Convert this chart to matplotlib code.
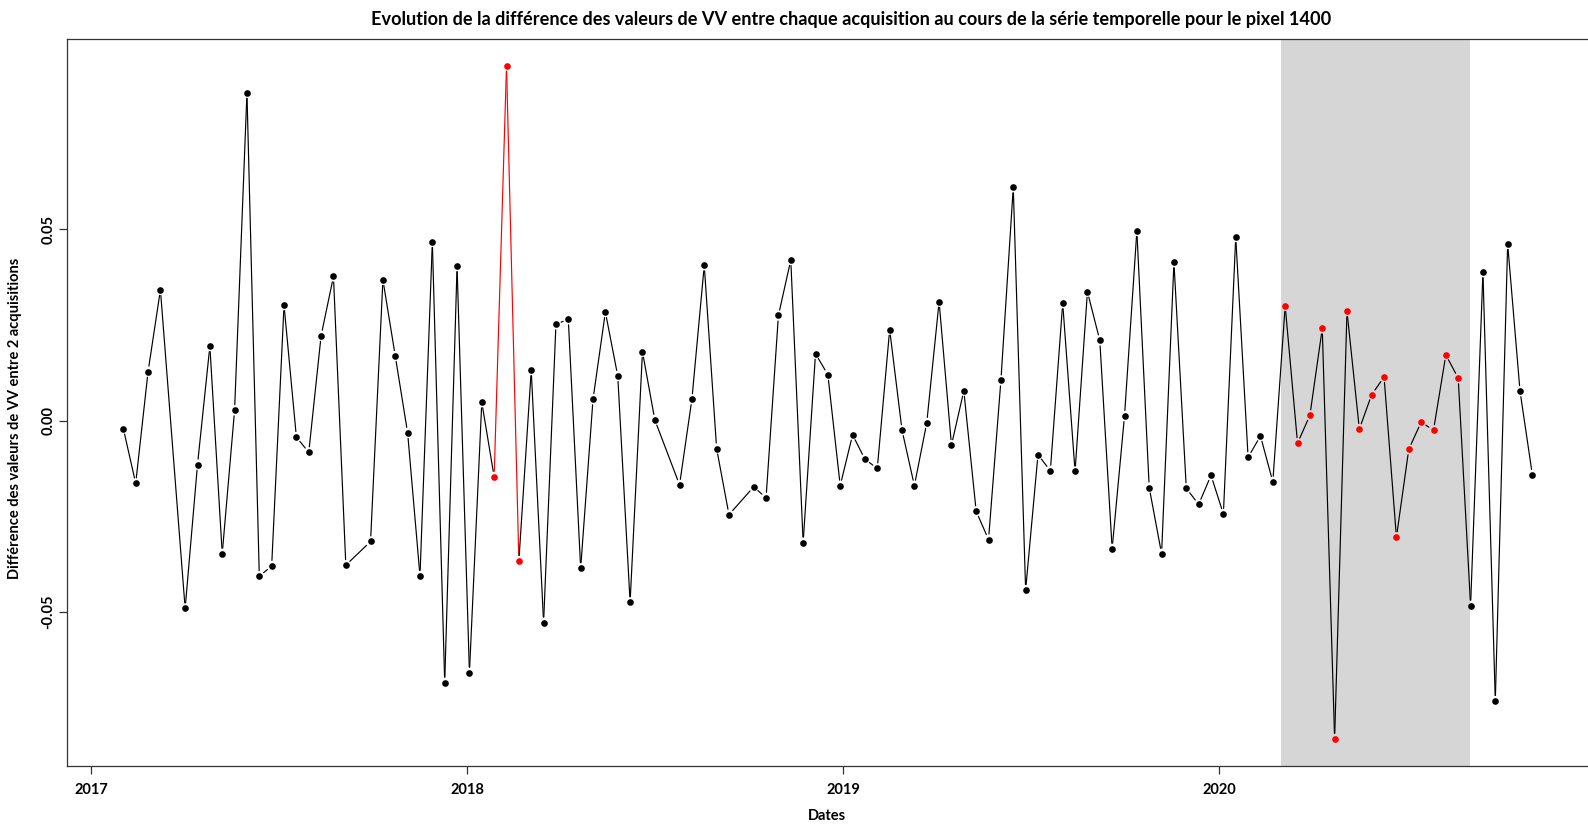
import numpy as np
import matplotlib
matplotlib.use("Agg")
import matplotlib.pyplot as plt
import matplotlib.dates as mdates

plt.rcParams['font.family'] = ['Lato', 'DejaVu Sans']
plt.rcParams['font.weight'] = 'bold'

# acquisition dates (Sentinel-1, 12 day revisit, a few missing)
dates = [
    '2017-02-01', '2017-02-13', '2017-02-25', '2017-03-09', '2017-04-02', '2017-04-14',
    '2017-04-26', '2017-05-08', '2017-05-20', '2017-06-01', '2017-06-13', '2017-06-25',
    '2017-07-07', '2017-07-19', '2017-07-31', '2017-08-12', '2017-08-24', '2017-09-05',
    '2017-09-29', '2017-10-11', '2017-10-23', '2017-11-04', '2017-11-16', '2017-11-28',
    '2017-12-10', '2017-12-22', '2018-01-03', '2018-01-15', '2018-01-27', '2018-02-08',
    '2018-02-20', '2018-03-04', '2018-03-16', '2018-03-28', '2018-04-09', '2018-04-21',
    '2018-05-03', '2018-05-15', '2018-05-27', '2018-06-08', '2018-06-20', '2018-07-02',
    '2018-07-26', '2018-08-07', '2018-08-19', '2018-08-31', '2018-09-12', '2018-10-06',
    '2018-10-18', '2018-10-30', '2018-11-11', '2018-11-23', '2018-12-05', '2018-12-17',
    '2018-12-29', '2019-01-10', '2019-01-22', '2019-02-03', '2019-02-15', '2019-02-27',
    '2019-03-11', '2019-03-23', '2019-04-04', '2019-04-16', '2019-04-28', '2019-05-10',
    '2019-05-22', '2019-06-03', '2019-06-15', '2019-06-27', '2019-07-09', '2019-07-21',
    '2019-08-02', '2019-08-14', '2019-08-26', '2019-09-07', '2019-09-19', '2019-10-01',
    '2019-10-13', '2019-10-25', '2019-11-06', '2019-11-18', '2019-11-30', '2019-12-12',
    '2019-12-24', '2020-01-05', '2020-01-17', '2020-01-29', '2020-02-10', '2020-02-22',
    '2020-03-05', '2020-03-17', '2020-03-29', '2020-04-10', '2020-04-22', '2020-05-04',
    '2020-05-16', '2020-05-28', '2020-06-09', '2020-06-21', '2020-07-03', '2020-07-15',
    '2020-07-27', '2020-08-08', '2020-08-20', '2020-09-01', '2020-09-13', '2020-09-25',
    '2020-10-07', '2020-10-19', '2020-10-31',
]

# VV difference between two successive acquisitions
diff_vv = [
    -0.0021, -0.0164, 0.0128, 0.0342, -0.0491, -0.0115,
    0.0195, -0.0348, 0.0027, 0.0857, -0.0407, -0.0380,
    0.0302, -0.0043, -0.0083, 0.0222, 0.0377, -0.0378,
    -0.0316, 0.0368, 0.0169, -0.0032, -0.0406, 0.0467,
    -0.0685, 0.0404, -0.0659, 0.0048, -0.0147, 0.0928,
    -0.0367, 0.0132, -0.0528, 0.0252, 0.0265, -0.0386,
    0.0056, 0.0284, 0.0117, -0.0475, 0.0180, 0.0002,
    -0.0168, 0.0056, 0.0406, -0.0073, -0.0246, -0.0173,
    -0.0202, 0.0275, 0.0420, -0.0319, 0.0175, 0.0120,
    -0.0170, -0.0037, -0.0101, -0.0125, 0.0238, -0.0025,
    -0.0170, -0.0006, 0.0311, -0.0064, 0.0078, -0.0237,
    -0.0311, 0.0105, 0.0610, -0.0443, -0.0089, -0.0131,
    0.0307, -0.0133, 0.0337, 0.0210, -0.0335, 0.0012,
    0.0496, -0.0175, -0.0348, 0.0414, -0.0177, -0.0219,
    -0.0143, -0.0244, 0.0480, -0.0096, -0.0040, -0.0160,
    0.0300, -0.0059, 0.0014, 0.0241, -0.0832, 0.0286,
    -0.0022, 0.0068, 0.0114, -0.0305, -0.0075, -0.0004,
    -0.0025, 0.0172, 0.0111, -0.0484, 0.0388, -0.0733,
    0.0462, 0.0077, -0.0142,
]

# detected change in 2018 and reference period shown in grey
event_2018 = ('2018-01-27', '2018-02-20')
period = ('2020-03-01', '2020-08-31')

x = mdates.date2num(np.array(dates, dtype='datetime64[D]'))
y = np.array(diff_vv)

def in_window(d, w):
    return (d >= mdates.datestr2num(w[0])) & (d <= mdates.datestr2num(w[1]))

in_event = in_window(x, event_2018)
in_period = in_window(x, period)
red = in_event | in_period

fig = plt.figure(figsize=(15.88, 8.25), dpi=100)
ax = fig.add_axes([0.042, 0.0715, 0.958, 0.8818])

ax.axvspan(mdates.datestr2num(period[0]), mdates.datestr2num(period[1]),
           color='#d6d6d6', lw=0, zorder=0)

# lines between points, with small gaps like R's type="b"
for i in range(len(x) - 1):
    col = 'red' if (in_event[i] and in_event[i + 1]) else 'black'
    ax.annotate('', xy=(x[i + 1], y[i + 1]), xytext=(x[i], y[i]),
                arrowprops=dict(arrowstyle='-', color=col, lw=0.85,
                                shrinkA=4, shrinkB=4), zorder=2)

ax.plot(x[~red], y[~red], 'o', color='black', ms=4.8, mec='none', zorder=3)
ax.plot(x[red], y[red], 'o', color='red', ms=4.8, mec='none', zorder=3)

ax.set_xlim(mdates.datestr2num('2016-12-08'), mdates.datestr2num('2020-12-24'))
ax.set_ylim(-0.0903, 0.0999)

years = ['2017', '2018', '2019', '2020']
ax.set_xticks([mdates.datestr2num(f'{yr}-01-01') for yr in years])
ax.set_xticklabels(years)
ax.set_yticks([-0.05, 0.0, 0.05])
ax.set_yticklabels(['-0.05', '0.00', '0.05'], rotation=90, va='center')
ax.tick_params(axis='both', length=6, width=0.9, color='#333333', labelsize=10.5)
ax.tick_params(axis='x', pad=6)
ax.tick_params(axis='y', pad=2)

ax.spines['right'].set_visible(False)
for s in ['left', 'bottom', 'top']:
    ax.spines[s].set_color('#333333')
    ax.spines[s].set_linewidth(0.9)

fig.text(851 / 1588, 1 - 19 / 825,
         "Evolution de la différence des valeurs de VV entre chaque acquisition "
         "au cours de la série temporelle pour le pixel 1400",
         ha='center', va='center', fontsize=13.1, fontweight='bold')
fig.text(827 / 1588, 1 - 816 / 825, 'Dates', ha='center', va='center',
         fontsize=10.5, fontweight='bold')
fig.text(15 / 1588, 1 - 418 / 825, 'Différence des valeurs de VV entre 2 acquisitions',
         ha='center', va='center', rotation=90, fontsize=10.5, fontweight='bold')

fig.savefig('out.png', dpi=100)
